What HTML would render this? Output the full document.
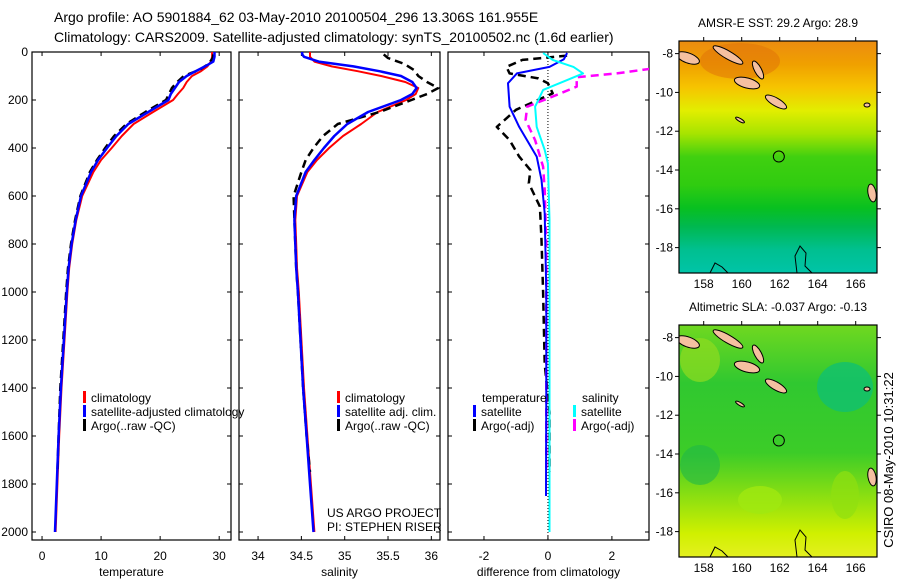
<!DOCTYPE html>
<html><head><meta charset="utf-8"><style>
html,body{margin:0;padding:0;background:#fff;}
svg{display:block;font-family:"Liberation Sans",sans-serif;}
text{fill:#000;}
</style></head><body>
<svg id="fig" width="900" height="580" viewBox="0 0 900 580">
<defs>
<clipPath id="c1"><rect x="32" y="52" width="199" height="488"/></clipPath>
<clipPath id="c2"><rect x="239" y="52" width="201" height="488"/></clipPath>
<clipPath id="c3"><rect x="448" y="52" width="201" height="488"/></clipPath>
<clipPath id="cm1"><rect x="679" y="41" width="198" height="232"/></clipPath>
<clipPath id="cm2"><rect x="679" y="325" width="198" height="232"/></clipPath>
<linearGradient id="g1" x1="0" y1="0" x2="0" y2="1">
<stop offset="0" stop-color="#ec8c10"/><stop offset="0.1" stop-color="#f0a000"/><stop offset="0.2" stop-color="#f6c400"/>
<stop offset="0.3" stop-color="#e2ee00"/><stop offset="0.4" stop-color="#a6e400"/><stop offset="0.5" stop-color="#40d010"/>
<stop offset="0.62" stop-color="#30cc10"/><stop offset="0.72" stop-color="#08c020"/><stop offset="0.8" stop-color="#00b850"/>
<stop offset="0.9" stop-color="#00c090"/><stop offset="1" stop-color="#00c4a8"/></linearGradient>
<linearGradient id="g2" x1="0" y1="0" x2="0" y2="1">
<stop offset="0" stop-color="#70d820"/><stop offset="0.25" stop-color="#30c830"/><stop offset="0.55" stop-color="#3ccc28"/>
<stop offset="0.75" stop-color="#90e010"/><stop offset="0.9" stop-color="#d0f000"/><stop offset="1" stop-color="#e4f020"/></linearGradient>
</defs>
<text x="54" y="22" font-size="14">Argo profile: AO 5901884_62 03-May-2010 20100504_296 13.306S 161.955E</text>
<text x="54" y="42" font-size="14">Climatology: CARS2009. Satellite-adjusted climatology: synTS_20100502.nc (1.6d earlier)</text>
<g id="axes"></g>
<g id="maps"></g>
<text transform="translate(893,460) rotate(-90)" text-anchor="middle" font-size="13">CSIRO 08-May-2010 10:31:22</text>
</svg>
<script>
// ---- data ----
const depths=[0,10,20,40,60,80,100,125,150,175,200,250,300,350,400,450,500,600,700,800,900,1000,1200,1400,1600,1800,2000];
const tempClim=[28.8,28.8,28.8,28.6,28.0,26.9,25.4,24.5,23.9,23.0,22.2,18.8,15.5,13.5,11.8,10.0,8.7,6.8,5.8,5.1,4.6,4.3,3.8,3.3,2.9,2.6,2.3];
const tempSat=[29.2,29.2,29.2,29.0,27.6,26.0,24.5,23.2,22.5,21.8,21.4,18.0,14.6,12.6,11.0,9.5,8.3,6.6,5.7,5.0,4.5,4.2,3.7,3.2,2.8,2.5,2.2];
const salClim=[34.6,34.6,34.6,34.65,34.85,35.15,35.42,35.7,35.85,35.82,35.71,35.38,35.19,34.98,34.82,34.68,34.57,34.45,34.43,34.44,34.45,34.47,34.5,34.53,34.57,34.61,34.65];
const salSat=[34.51,34.51,34.53,34.7,35.1,35.4,35.65,35.78,35.83,35.78,35.65,35.27,35.03,34.88,34.76,34.65,34.55,34.44,34.42,34.43,34.44,34.46,34.49,34.52,34.56,34.6,34.64];
const argoDepths=[10,25,50,75,100,125,150,175,200,250,300,350,400,450,500,600,700,800,900,1000,1200,1400,1600,1750];
const argoTemp=[29.0,28.9,28.2,26.6,24.0,22.9,22.0,21.5,21.0,17.5,14.3,12.2,10.7,9.3,8.1,6.5,5.6,4.9,4.4,4.1,3.6,3.1,2.8,2.6];
const argoSal=[35.45,35.5,35.69,35.8,35.85,35.95,36.08,35.95,35.77,35.4,34.92,34.75,34.64,34.55,34.5,34.41,34.42,34.43,34.44,34.46,34.49,34.52,34.56,34.6];
const tSatDepth=[4,30,62,89,130,228,312,436,533,672,1000,1400,1850];
const tSatDiff=[0.6,0.5,0.05,-0.97,-1.25,-1.2,-0.9,-0.35,-0.2,-0.1,-0.05,-0.05,-0.06];
const tArgoDepth=[15,33,62,89,110,130,172,241,312,367,436,492,547,644,783,1000,1300,1500,1750];
const tArgoDiff=[0.6,-0.8,-1.3,-1.2,-0.3,0,0.15,-1,-1.6,-1.2,-0.9,-0.55,-0.6,-0.25,-0.2,-0.15,-0.1,0.05,0.05];
const sSatDepth=[4,33,62,89,117,158,228,312,408,464,700,1000,1500,2000];
const sSatDiff=[-0.15,0.15,0.8,1.1,0.6,-0.15,-0.4,-0.35,-0.1,0,0.05,0.05,0.05,0.05];
const sArgoDepth=[70,89,105,144,172,228,283,367,478,575,800,1200,1750];
const sArgoDiff=[3.2,2.15,0.9,0.9,0.4,-0.65,-0.7,-0.4,-0.15,-0.1,-0.05,-0.05,-0.05];
const depthTicks=[0,200,400,600,800,1000,1200,1400,1600,1800,2000];
const tempTicks=[0,10,20,30];
const salTicks=[34,34.5,35,35.5,36];
const diffTicks=[-2,0,2];
const lonTicks=[158,160,162,164,166];
const latTicks=[-8,-10,-12,-14,-16,-18];

const NS='http://www.w3.org/2000/svg';
const fig=document.getElementById('fig');
const AX=document.getElementById('axes');
function mk(tag,attrs,parent){const e=document.createElementNS(NS,tag);for(const k in attrs)e.setAttribute(k,attrs[k]);(parent||AX).appendChild(e);return e;}
const yD=d=>52+0.24*d;
const panels=[
 {x0:32,x1:231,v0:-1.7,v1:32,ticks:tempTicks,title:'temperature',clip:'c1',name:'temperature-panel'},
 {x0:239,x1:440,v0:33.78,v1:36.1,ticks:salTicks,title:'salinity',clip:'c2',name:'salinity-panel'},
 {x0:448,x1:649,v0:-3.125,v1:3.16,ticks:diffTicks,title:'difference from climatology',clip:'c3',name:'difference-panel'}];
panels.forEach((p,i)=>{
 p.sx=v=>p.x0+(v-p.v0)/(p.v1-p.v0)*(p.x1-p.x0);
 const g=mk('g',{});
 
 
 p.g=g;
 mk('rect',{x:p.x0,y:52,width:p.x1-p.x0,height:488,fill:'none',stroke:'#000','stroke-width':1.2},g);
 depthTicks.forEach(d=>{
  mk('line',{x1:p.x0,x2:p.x0+4,y1:yD(d),y2:yD(d),stroke:'#000'},g);
  mk('line',{x1:p.x1,x2:p.x1-4,y1:yD(d),y2:yD(d),stroke:'#000'},g);
  if(i===0){const t=mk('text',{x:28,y:yD(d)+4,'text-anchor':'end','font-size':12},g);t.textContent=d;
   
   }
 });
 p.ticks.forEach(v=>{
  const x=p.sx(v);
  mk('line',{x1:x,x2:x,y1:540,y2:536,stroke:'#000'},g);
  mk('line',{x1:x,x2:x,y1:52,y2:56,stroke:'#000'},g);
  const t=mk('text',{x:x,y:560,'text-anchor':'middle','font-size':12},g);t.textContent=v;
  
  
 });
 const t=mk('text',{x:(p.x0+p.x1)/2,y:576,'text-anchor':'middle','font-size':12},g);t.textContent=p.title;
 
 
});
function line(p,ds,vs,color,w,dash,name){
 const pts=ds.map((d,k)=>p.sx(vs[k]).toFixed(1)+','+yD(d).toFixed(1)).join(' ');
 const a={points:pts,fill:'none',stroke:color,'stroke-width':w,'clip-path':'url(#'+p.clip+')','stroke-linejoin':'round'};
 if(dash)a['stroke-dasharray']=dash;
 const e=mk('polyline',a,p.g);
 
 
}
const [P1,P2,P3]=panels;
line(P1,depths,tempClim,'#f00',2,null,'temp-climatology-line');
line(P1,argoDepths,argoTemp,'#000',2.5,'8,5','temp-argo-line');
line(P1,depths,tempSat,'#00f',2.5,null,'temp-satellite-line');
line(P2,depths,salClim,'#f00',2,null,'sal-climatology-line');
line(P2,argoDepths,argoSal,'#000',2.5,'8,5','sal-argo-line');
line(P2,depths,salSat,'#00f',2.5,null,'sal-satellite-line');
mk('line',{x1:P3.sx(0),x2:P3.sx(0),y1:52,y2:540,stroke:'#000','stroke-width':1,'stroke-dasharray':'1,2'},P3.g);
line(P3,tArgoDepth,tArgoDiff,'#000',2.5,'8,5','temp-argo-diff-line');
line(P3,sArgoDepth,sArgoDiff,'#f0f',2.5,'8,5','sal-argo-diff-line');
line(P3,tSatDepth,tSatDiff,'#00f',2,null,'temp-satellite-diff-line');
line(P3,sSatDepth,sSatDiff,'#0ff',2,null,'sal-satellite-diff-line');
function legend(x,y,color,label,name){
 const g=mk('g',{});
 
 
 if(color)mk('rect',{x:x,y:y-6,width:3,height:12,fill:color},g);
 const t=mk('text',{x:x+8,y:y+5,'font-size':12},g);t.textContent=label;
}
legend(83,397,'#f00','climatology','legend-climatology');
legend(83,411,'#00f','satellite-adjusted climatology','legend-satellite-adjusted');
legend(83,425,'#000','Argo(..raw -QC)','legend-argo');
legend(337,397,'#f00','climatology','legend-sal-climatology');
legend(337,411,'#00f','satellite adj. clim.','legend-sal-satellite');
legend(337,425,'#000','Argo(..raw -QC)','legend-sal-argo');
legend(474,397,null,'temperature','legend-temperature-header');
legend(473,411,'#00f','satellite','legend-temp-satellite');
legend(473,425,'#000','Argo(-adj)','legend-temp-argo');
legend(574,397,null,'salinity','legend-salinity-header');
legend(573,411,'#0ff','satellite','legend-sal-satellite-diff');
legend(573,425,'#f0f','Argo(-adj)','legend-sal-argo-diff');
legend(319,512,null,'US ARGO PROJECT','project-credit');
legend(319,526,null,'PI: STEPHEN RISER','pi-credit');

// ---- maps ----
const MG=document.getElementById('maps');
const islands=[[688,58,12,5,20],[728,55,17,4,30],[747,83,13,5,15],[758,70,10,3.5,62],[776,102,12,4,30],[872,193,4,9,-10],[740,120,5,1.5,30],[867,105,3,2,0]];
function drawMap(top,grad,title,clip,name,isSst){
 const g=mk('g',{},MG);
 
 
 const lx=lon=>679+(lon-156.7)*19;
 const ly=lat=>top+(-7.35-lat)*19.4;
 mk('rect',{x:679,y:top,width:198,height:232,fill:'url(#'+grad+')'},g);
 const cg=mk('g',{'clip-path':'url(#'+clip+')'},g);
 if(!isSst){
  mk('ellipse',{cx:845,cy:top+62,rx:28,ry:25,fill:'#10c070',opacity:0.8},cg);
  mk('ellipse',{cx:700,cy:top+140,rx:20,ry:20,fill:'#20b848',opacity:0.6},cg);
  mk('ellipse',{cx:760,cy:top+175,rx:22,ry:14,fill:'#a0e810',opacity:0.8},cg);
  mk('ellipse',{cx:845,cy:top+170,rx:14,ry:24,fill:'#90e010',opacity:0.7},cg);
  mk('ellipse',{cx:700,cy:top+35,rx:20,ry:22,fill:'#90dc20',opacity:0.7},cg);
 }else{
  mk('ellipse',{cx:740,cy:top+20,rx:40,ry:18,fill:'#e07008',opacity:0.5},cg);
 }
 const off=top-41;
 islands.forEach(s=>{
  const e=mk('ellipse',{cx:s[0],cy:s[1]+off,rx:s[2],ry:s[3],fill:'#f5c0a0',stroke:'#000','stroke-width':1,transform:`rotate(${s[4]} ${s[0]} ${s[1]+off})`},cg);
 });
 mk('path',{d:`M710 ${top+232} L715 ${top+222} L722 ${top+226} L728 ${top+232}`,fill:'none',stroke:'#000'},cg);
 mk('path',{d:`M797 ${top+232} L795 ${top+215} L800 ${top+205} L806 ${top+212} L805 ${top+225} L812 ${top+232}`,fill:'none',stroke:'#000'},cg);
 const c=mk('circle',{cx:lx(161.955),cy:ly(-13.306),r:5.5,fill:'none',stroke:'#000','stroke-width':1},g);
 
 
 mk('rect',{x:679,y:top,width:198,height:232,fill:'none',stroke:'#000','stroke-width':1.2},g);
 lonTicks.forEach(v=>{const x=lx(v);
  mk('line',{x1:x,x2:x,y1:top,y2:top-4,stroke:'#000'},g);
  const t=mk('text',{x:x,y:top+247,'text-anchor':'middle','font-size':12},g);t.textContent=v;
  
  });
 latTicks.forEach(v=>{const y=ly(v);
  mk('line',{x1:877,x2:881,y1:y,y2:y,stroke:'#000'},g);
  mk('line',{x1:679,x2:675,y1:y,y2:y,stroke:'#000'},g);
  const t=mk('text',{x:673,y:y+4,'text-anchor':'end','font-size':12},g);t.textContent=v;
  
  });
 const t=mk('text',{x:778,y:top-14,'text-anchor':'middle','font-size':12},g);t.textContent=title;
 
 
}
drawMap(41,'g1','AMSR-E SST: 29.2 Argo: 28.9','cm1','sst-map',true);
drawMap(325,'g2','Altimetric SLA: -0.037 Argo: -0.13','cm2','sla-map',false);
</script>
</body></html>
